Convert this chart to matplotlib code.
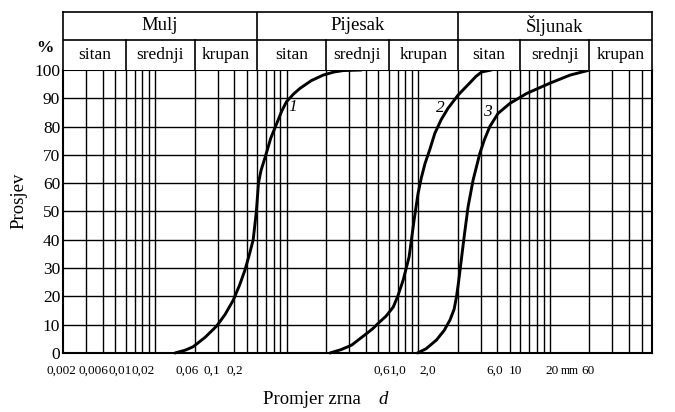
import matplotlib.pyplot as plt

# ---------------------------------------------------
# data
# ---------------------------------------------------

# curve 1 (fine sand / silt)
SIZE_1 = [0.0142, 0.017, 0.0195, 0.024, 0.0294, 0.034, 0.0394, 0.044,
          0.0483, 0.052, 0.0558, 0.0590, 0.0612, 0.064, 0.0686, 0.076,
          0.0841, 0.092, 0.100, 0.113, 0.1265, 0.155, 0.19, 0.23, 0.27, 0.37]
PASS_1 = [0, 1.0, 2.2, 5.5, 9.5, 13.5, 18.7, 24, 29.3, 34.5, 40, 50, 60,
          64.5, 69, 76, 81, 85.5, 88.8, 91.5, 93.5, 96.3, 98.2, 99.3, 99.8, 100]

# curve 2 (sand)
SIZE_2 = [0.214, 0.26, 0.313, 0.394, 0.45, 0.498, 0.57, 0.647, 0.70,
          0.771, 0.855, 0.933, 1.0, 1.06, 1.13, 1.23, 1.34, 1.5, 1.69,
          2.02, 2.48, 2.75, 3.04, 3.6]
PASS_2 = [0, 1.2, 2.8, 6.4, 8.5, 10.5, 13, 16.2, 20, 25.8, 34, 47, 56.4,
          62, 67, 72, 77.6, 82.5, 86.5, 91.2, 95.5, 97.7, 99.3, 100]

# curve 3 (gravel)
SIZE_3 = [0.99, 1.15, 1.38, 1.58, 1.75, 1.88, 1.96, 2.03, 2.10, 2.24,
          2.40, 2.62, 2.95, 3.2, 3.51, 4.06, 4.99, 6.68, 10.0, 14.3, 20.2]
PASS_3 = [0, 1.5, 4.6, 8, 11.7, 15.5, 19.9, 25, 30.5, 41.1, 51.7, 61.1,
          70.6, 75.5, 80, 84.7, 88.2, 91.7, 95.3, 98.2, 100]

CURVE_NAMES = ["1", "2", "3"]
CURVE_NAME_AT = [(0.112, 86.9), (1.47, 86.6), (3.39, 85.2)]

Y_TICKS = list(range(0, 101, 10))

X_LABELS = ["0,002", "0,006", "0,01", "0,02", "0,06", "0,1", "0,2",
            "0,6", "1,0", "2,0", "6,0", "10", "20", "mm", "60"]

MAIN_GROUPS = ["Mulj", "Pijesak", "Šljunak"]
MAIN_LIMITS = [0.002, 0.06, 2, 60]
SUB_GROUPS = ["sitan", "srednji", "krupan"] * 3
SUB_LIMITS = [0.002, 0.006, 0.02, 0.06, 0.2, 0.6, 2, 6, 20, 60]

# ---------------------------------------------------
# layout (pixels of the 675x412 picture)
# ---------------------------------------------------
W, H = 675, 412
LEFT, RIGHT, TOP, BOTTOM = 63, 652, 70, 353
HEAD_TOP = 12
# the printed size labels are not under their lines in the original
X_LABEL_PX = [61.5, 93.5, 120.5, 143.5, 187.5, 212, 234.5,
              381.5, 398.5, 428, 495, 515, 552, 569.5, 587.5]


def ax_frac(px, py):
    return (px - LEFT) / (RIGHT - LEFT), (BOTTOM - py) / (BOTTOM - TOP)


plt.rcParams["font.family"] = ["Liberation Serif", "DejaVu Serif"]

fig = plt.figure(figsize=(W / 100, H / 100), dpi=100)
ax = fig.add_axes([LEFT / W, 1 - BOTTOM / H, (RIGHT - LEFT) / W, (BOTTOM - TOP) / H])
hdr = fig.add_axes([LEFT / W, 1 - TOP / H, (RIGHT - LEFT) / W, (TOP - HEAD_TOP) / H])

xmin, xmax = SUB_LIMITS[0], SUB_LIMITS[-1]

# --- log paper grid ---
grid_x = []
for dec in [0.001, 0.01, 0.1, 1, 10]:
    for k in range(1, 10):
        v = round(k * dec, 6)
        if xmin < v < xmax:
            grid_x.append(v)
for v in grid_x:
    ax.axvline(v, color="black", lw=1.0, zorder=1)
for v in Y_TICKS[1:-1]:
    ax.axhline(v, color="black", lw=1.0, zorder=1)

# --- curves ---
for xs, ys in [(SIZE_1, PASS_1), (SIZE_2, PASS_2), (SIZE_3, PASS_3)]:
    ax.plot(xs, ys, color="black", lw=2.1, solid_capstyle="round",
            solid_joinstyle="round", zorder=3, clip_on=False)
for name, (cx, cy) in zip(CURVE_NAMES, CURVE_NAME_AT):
    ax.text(cx, cy, name, fontsize=12.5, style="italic", ha="center", va="center")

ax.set_xscale("log")
ax.set_xlim(xmin, xmax)
ax.set_ylim(0, 100)
ax.set_xticks([])
ax.minorticks_off()
ax.set_yticks(Y_TICKS)
ax.tick_params(axis="y", length=0, pad=2, labelsize=12.5)
for s in ax.spines.values():
    s.set_linewidth(1.5)

# size labels along the bottom
for lab, px in zip(X_LABELS, X_LABEL_PX):
    size = 8.5 if lab == "mm" else 9.5
    ax.text(*ax_frac(px, 371), lab, transform=ax.transAxes,
            ha="center", va="center", fontsize=size)

ax.text(*ax_frac(312, 399), "Promjer zrna", transform=ax.transAxes,
        ha="center", va="center", fontsize=13.5)
ax.text(*ax_frac(383, 399), "d", transform=ax.transAxes,
        ha="center", va="center", fontsize=13.5, style="italic")
ax.text(*ax_frac(19, 201), "Prosjev", transform=ax.transAxes,
        ha="center", va="center", rotation=90, fontsize=13.5)
fig.text(45 / W, 1 - 48 / H, "%", ha="center", va="center", fontsize=12.5,
         fontweight="bold")

# --- classification header ---
hdr.set_xscale("log")
hdr.set_xlim(xmin, xmax)
hdr.set_ylim(0, 1)
mid = (TOP - 40) / (TOP - HEAD_TOP)
hdr.axhline(mid, color="black", lw=1.2)
for v in MAIN_LIMITS[1:-1]:
    hdr.axvline(v, color="black", lw=1.2)
for v in SUB_LIMITS[1:-1]:
    if v not in MAIN_LIMITS:
        hdr.axvline(v, ymin=0, ymax=mid, color="black", lw=1.2)

for i, name in enumerate(MAIN_GROUPS):
    c = (MAIN_LIMITS[i] * MAIN_LIMITS[i + 1]) ** 0.5
    hdr.text(c, (1 + mid) / 2, name, ha="center", va="center", fontsize=13.5)
for i, name in enumerate(SUB_GROUPS):
    c = (SUB_LIMITS[i] * SUB_LIMITS[i + 1]) ** 0.5
    hdr.text(c, mid / 2, name, ha="center", va="center", fontsize=12.5)

hdr.set_xticks([])
hdr.set_yticks([])
hdr.minorticks_off()
for s in hdr.spines.values():
    s.set_linewidth(1.2)
hdr.spines["bottom"].set_visible(False)

fig.savefig("out.png", dpi=100)
